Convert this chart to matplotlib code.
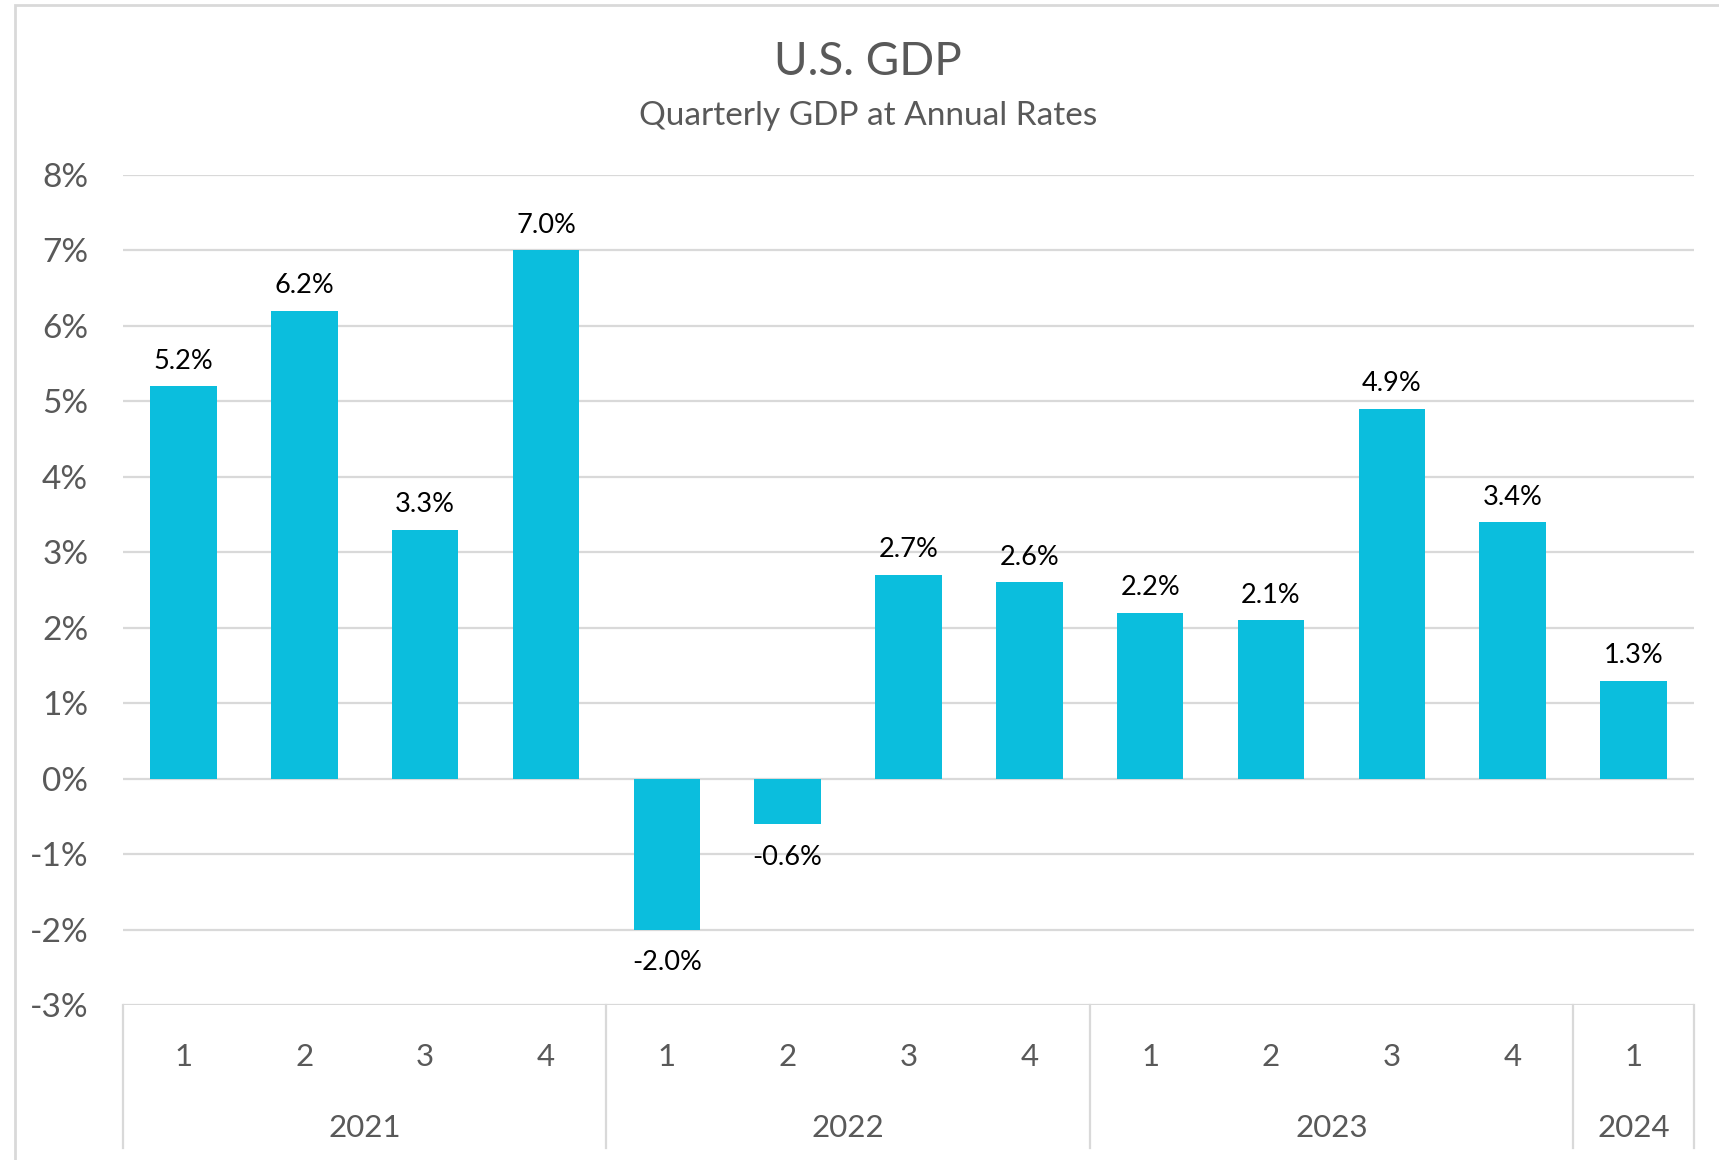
import matplotlib
matplotlib.use("Agg")
import matplotlib.pyplot as plt
from matplotlib.patches import Rectangle

quarters = ["1", "2", "3", "4", "1", "2", "3", "4", "1", "2", "3", "4", "1"]
years = ["2021", "2022", "2023", "2024"]
year_counts = [4, 4, 4, 1]
gdp = [5.2, 6.2, 3.3, 7.0, -2.0, -0.6, 2.7, 2.6, 2.2, 2.1, 4.9, 3.4, 1.3]
yticks = [-3, -2, -1, 0, 1, 2, 3, 4, 5, 6, 7, 8]

W, H = 1719, 1160
plt.rcParams['font.family'] = ['Lato', 'DejaVu Sans']
fig = plt.figure(figsize=(W / 100, H / 100), dpi=100)

# outer chart frame
fig.patches.append(Rectangle((15 / W, -0.1), 1.2, 1 - 5 / H + 0.1, transform=fig.transFigure,
                             fill=False, edgecolor="#d9d9d9", linewidth=2, zorder=0))

left, right, top, bottom = 123, 1694, 175, 1005
ax = fig.add_axes([left / W, 1 - bottom / H, (right - left) / W, (bottom - top) / H])

bar_color = "#0BBEDD"
grid_color = "#d9d9d9"
text_color = "#595959"

x = list(range(len(gdp)))
ax.bar(x, gdp, width=0.55, color=bar_color, zorder=3)
ax.set_xlim(-0.5, len(gdp) - 0.5)
ax.set_ylim(-3, 8)
ax.set_yticks(yticks)
ax.set_yticklabels([f"{t}%" for t in yticks], fontsize=24, color=text_color)
ax.tick_params(axis='y', length=0, pad=25)
ax.set_xticks([])
for t in yticks:
    ax.axhline(t, color=grid_color, linewidth=1.6, zorder=1)
for s in ax.spines.values():
    s.set_visible(False)

# data labels
for xi, v in zip(x, gdp):
    if v >= 0:
        ax.annotate(f"{v:.1f}%", (xi, v), xytext=(0, 9), textcoords="offset points",
                    ha="center", va="bottom", fontsize=19.5, color="black")
    else:
        ax.annotate(f"{v:.1f}%", (xi, v), xytext=(0, -15), textcoords="offset points",
                    ha="center", va="top", fontsize=19.5, color="black")

# multi-level category axis
trans = ax.get_xaxis_transform()
axis_h = bottom - top
def yfrac(py):
    return (bottom - py) / axis_h

for xi, q in zip(x, quarters):
    ax.text(xi, yfrac(1057), q, transform=trans, ha="center", va="center",
            fontsize=22.5, color=text_color, clip_on=False)

pos = -0.5
bounds = [pos]
for yr, n in zip(years, year_counts):
    center = pos + n / 2
    ax.text(center, yfrac(1128), yr, transform=trans, ha="center", va="center",
            fontsize=22.5, color=text_color, clip_on=False)
    pos += n
    bounds.append(pos)
for b in bounds:
    ax.plot([b, b], [0, yfrac(1148)], transform=trans, color=grid_color,
            linewidth=1.6, clip_on=False, zorder=1)

fig.text(868 / W, 1 - 62 / H, "U.S. GDP", ha="center", va="center",
         fontsize=33, color=text_color)
fig.text(868 / W, 1 - 116 / H, "Quarterly GDP at Annual Rates", ha="center",
         va="center", fontsize=24, color=text_color)

fig.savefig("out.png", dpi=100)
